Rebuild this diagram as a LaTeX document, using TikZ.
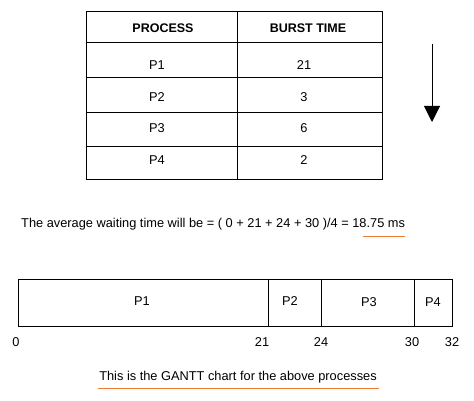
\documentclass[tikz,border=0pt]{standalone}
\usepackage{fontspec}
\setmainfont{Liberation Sans}
\usetikzlibrary{arrows.meta}
\definecolor{ulorange}{RGB}{237,125,49}
\begin{document}
\begin{tikzpicture}[x=1pt,y=-1pt,
  txt/.style={inner sep=0pt,font=\fontsize{12.8}{15}\selectfont},
  hdr/.style={inner sep=0pt,font=\fontsize{12.5}{15}\selectfont\bfseries},
  grid/.style={draw=black,line width=1pt},
  ul/.style={draw=ulorange,line width=1pt}]
\useasboundingbox (0,0) rectangle (474,401);
% table
\draw[grid] (86,12) rectangle (382,180);
\draw[grid] (237,12) -- (237,180);
\foreach \y in {43,78,113,147} \draw[grid] (86,\y) -- (382,\y);
\node[hdr] (hp) at (163,28) {PROCESS};
\node[hdr] (hb) at (308,28) {BURST TIME};
\node[txt] (p1) at (157,65) {P1};
\node[txt] (b1) at (304,65) {21};
\node[txt] (p2) at (157,97) {P2};
\node[txt] (b2) at (304,97) {3};
\node[txt] (p3) at (157,128) {P3};
\node[txt] (b3) at (304,128) {6};
\node[txt] (p4) at (157,160) {P4};
\node[txt] (b4) at (304,160) {2};
% arrow
\coordinate (atop) at (432,44);
\coordinate (abot) at (432,122);
\draw[line width=1pt,-{Triangle[width=16pt,length=16pt]}] (atop) -- (abot);
% average line
\node[txt,anchor=west] (avg) at (21,224) {The average waiting time will be = ( 0 + 21 + 24 + 30 )/4 = 18.75 ms};
\draw[ul] (363,236) -- (405,236);
% gantt
\draw[grid] (18,279) rectangle (452,326);
\foreach \x in {268,321,414} \draw[grid] (\x,279) -- (\x,326);
\node[txt] (g1) at (142,301) {P1};
\node[txt] (g2) at (290,301) {P2};
\node[txt] (g3) at (369,302) {P3};
\node[txt] (g4) at (433,302) {P4};
\node[txt] (t0) at (16,342) {0};
\node[txt] (t21) at (262,342) {21};
\node[txt] (t24) at (321,342) {24};
\node[txt] (t30) at (412,342) {30};
\node[txt] (t32) at (452,342) {32};
\node[txt] (cap) at (238,377) {This is the GANTT chart for the above processes};
\draw[ul] (98,388) -- (379,388);
\end{tikzpicture}
\end{document}
